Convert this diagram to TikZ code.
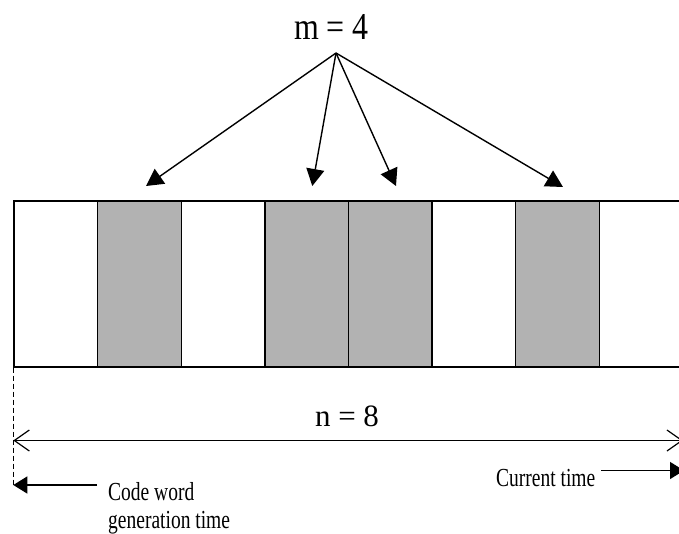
\documentclass[tikz,border=0pt]{standalone}
\usepackage{fontspec}
\setmainfont{Liberation Serif}
\usetikzlibrary{arrows.meta}
\definecolor{cellgray}{RGB}{178,178,178}
\tikzset{
  cell/.style={draw=black, line width=1.5pt, minimum width=83.6pt, minimum height=166pt, inner sep=0pt, anchor=north west},
  shaded/.style={cell, fill=cellgray},
  pointer/.style={line width=1.4pt, -{Triangle[length=17pt, width=18pt]}},
  span/.style={line width=1.2pt, {Straight Barb[length=15pt, width=21pt]}-{Straight Barb[length=15pt, width=21pt]}},
  timearrow/.style={line width=1.4pt, -{Triangle[length=14pt, width=17pt]}},
  bigtext/.style={inner sep=0pt, anchor=base},
  smalltext/.style={inner sep=0pt, anchor=base west}
}
\newcommand{\smalllabel}[1]{\scalebox{0.75}[1]{\fontsize{26}{28}\selectfont #1}}
\begin{document}
\begin{tikzpicture}[x=1pt, y=-1pt]
  \useasboundingbox (0,0) rectangle (679,533);
  \begin{scope}
    \clip (0,0) rectangle (679,533);
    % row of eight time slots
    \node[cell]   (c1) at (13.3,200) {};
    \node[shaded] (c2) at (96.9,200) {};
    \node[cell]   (c3) at (180.5,200) {};
    \node[shaded] (c4) at (264.1,200) {};
    \node[shaded] (c5) at (347.7,200) {};
    \node[cell]   (c6) at (431.3,200) {};
    \node[shaded] (c7) at (514.9,200) {};
    \node[cell]   (c8) at (598.5,200) {};

    % m = 4 label and the arrows to the marked slots
    \node[bigtext] (m) at (331.5,39) {\scalebox{0.84}[1]{\fontsize{38}{40}\selectfont m = 4}};
    \coordinate (src) at (336,53);
    \coordinate (t1) at (146,186);
    \coordinate (t2) at (312.3,186);
    \coordinate (t3) at (396,186);
    \coordinate (t4) at (563,187);
    \draw[pointer] (src) -- (t1);
    \draw[pointer] (src) -- (t2);
    \draw[pointer] (src) -- (t3);
    \draw[pointer] (src) -- (t4);

    % total length n = 8
    \coordinate (dtop) at (c1.south west);
    \coordinate (dbot) at (13.3,487);
    \draw[line width=1pt, dash pattern=on 5pt off 3pt] (dtop) -- (dbot);
    \coordinate (sl) at (13.3,440.5);
    \coordinate (sr) at (683,440.5);
    \draw[span] (sl) -- (sr);
    \node[bigtext] (n) at (347,426.7) {\fontsize{31}{33}\selectfont n = 8};

    % time markers
    \coordinate (cwa) at (97,485);
    \coordinate (cwb) at (13.3,485);
    \draw[timearrow] (cwa) -- (cwb);
    \node[smalltext] (cw1) at (108,500.5) {\smalllabel{Code word}};
    \node[smalltext] (cw2) at (108,528) {\smalllabel{generation time}};

    \node[smalltext] (ct) at (496,486) {\smalllabel{Current time}};
    \coordinate (cta) at (601,470.5);
    \coordinate (ctb) at (684,470.5);
    \draw[timearrow] (cta) -- (ctb);
  \end{scope}
\end{tikzpicture}
\end{document}
